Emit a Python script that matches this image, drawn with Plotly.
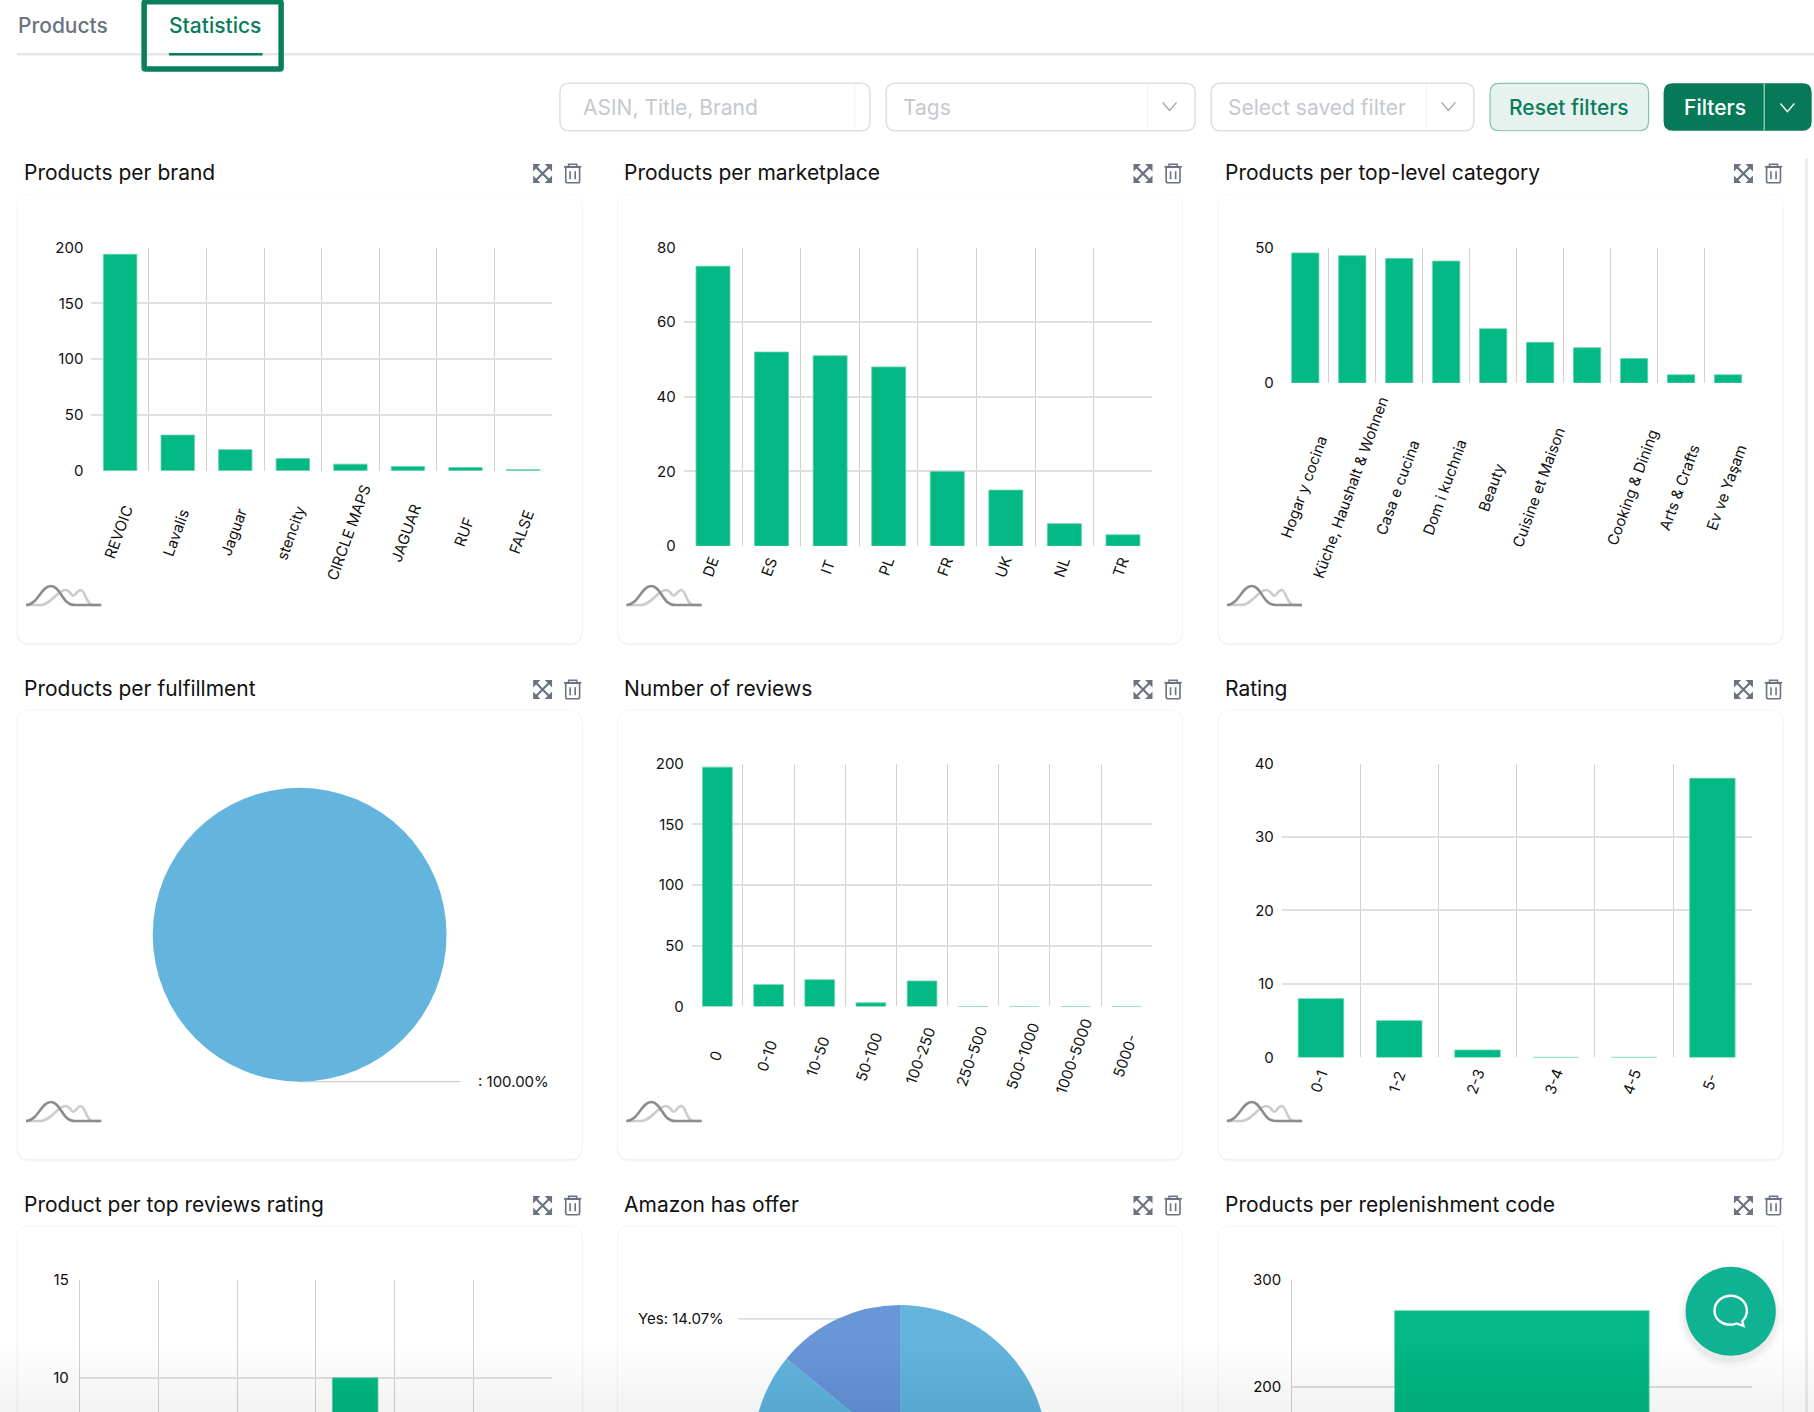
import plotly.graph_objects as go

# Screenshot is 1814x1412, figure runs past the bottom so the last row can be cut off by the window
W, H = 1814, 1700
S = 1814 / 1568  # positions below were measured on a 1568 wide view
FONT = "Inter"
GREEN = "#02b885"
DARK_GREEN = "#0a7c5c"
ICON = "#6b7280"
GRID_V = "#d2d2d2"
GRID_H = "#e0e0e0"

# Data
brand_cats = ["REVOIC", "Lavalis", "Jaguar", "stencity", "CIRCLE MAPS", "JAGUAR", "RUF", "FALSE"]
brand_vals = [194, 32, 19, 11, 6, 4, 3, 1]

market_cats = ["DE", "ES", "IT", "PL", "FR", "UK", "NL", "TR"]
market_vals = [75, 52, 51, 48, 20, 15, 6, 3]

category_cats = ["Hogar y cocina", "Küche, Haushalt & Wohnen", "Casa e cucina", "Dom i kuchnia", "Beauty",
                 "Cuisine et Maison", " ", "Cooking & Dining", "Arts & Crafts", "Ev ve Yaşam"]
category_vals = [48, 47, 46, 45, 20, 15, 13, 9, 3, 3]

review_cats = ["0", "0-10", "10-50", "50-100", "100-250", "250-500", "500-1000", "1000-5000", "5000-"]
review_vals = [197, 18, 22, 3, 21, 0, 0, 0, 0]

rating_cats = ["0-1", "1-2", "2-3", "3-4", "4-5", "5-"]
rating_vals = [8, 5, 1, 0, 0, 38]

# only the one bar tall enough to be seen above the window edge
top_rating_cats = ["0-1", "1-2", "2-3", "3-4", "4-5", "5-"]
top_rating_vals = [None, None, None, 10, None, None]
top_rating_ticks = [10, 15]

replenish_cats = ["-"]
replenish_vals = [271]
replenish_ticks = [200, 300]

fulfillment_labels = [""]
fulfillment_vals = [100]

offer_labels = ["No", "Yes"]
offer_vals = [85.93, 14.07]

card_titles = ["Products per brand", "Products per marketplace", "Products per top-level category",
               "Products per fulfillment", "Number of reviews", "Rating",
               "Product per top reviews rating", "Amazon has offer", "Products per replenishment code"]
card_lefts = [15, 534, 1053]
card_tops = [168, 614, 1060]


def X(x):
    return x * S / W


def Y(y):
    return 1 - y * S / H


def pt(x, y):
    return f"{X(x):.5f},{Y(y):.5f}"


shapes = []
annotations = []


def add_path(d, fill=None, line=None, width=0, layer="below"):
    shapes.append(dict(type="path", xref="paper", yref="paper", path=d, layer=layer,
                       fillcolor=fill or "rgba(0,0,0,0)",
                       line=dict(color=line or "rgba(0,0,0,0)", width=width)))


def rrect(x0, y0, x1, y1, r):
    return (f"M{pt(x0 + r, y0)} L{pt(x1 - r, y0)} Q{pt(x1, y0)} {pt(x1, y0 + r)} "
            f"L{pt(x1, y1 - r)} Q{pt(x1, y1)} {pt(x1 - r, y1)} "
            f"L{pt(x0 + r, y1)} Q{pt(x0, y1)} {pt(x0, y1 - r)} "
            f"L{pt(x0, y0 + r)} Q{pt(x0, y0)} {pt(x0 + r, y0)} Z")


def add_text(text, x, y, size, color="#111111", anchor="left", weight=400, angle=0):
    annotations.append(dict(text=text, x=X(x), y=Y(y), xref="paper", yref="paper", showarrow=False,
                            xanchor=anchor, yanchor="middle", textangle=angle, borderpad=0,
                            font=dict(family=FONT, size=size, color=color, weight=weight)))


def chevron(cx, cy, color):
    add_path(f"M{pt(cx - 6, cy - 3.5)} L{pt(cx, cy + 3.5)} L{pt(cx + 6, cy - 3.5)}", line=color, width=1.3)


def expand_icon(cx, cy):
    add_path(f"M{pt(cx - 6, cy - 6)} L{pt(cx + 6, cy + 6)} M{pt(cx + 6, cy - 6)} L{pt(cx - 6, cy + 6)}",
             line=ICON, width=2.2)
    for sx, sy in [(-1, -1), (1, -1), (-1, 1), (1, 1)]:
        a = pt(cx + sx * 8.2, cy + sy * 8.2)
        b = pt(cx + sx * 1.8, cy + sy * 8.2)
        c = pt(cx + sx * 8.2, cy + sy * 1.8)
        add_path(f"M{a} L{b} L{c} Z", fill=ICON)


def trash_icon(cx, cy):
    add_path(f"M{pt(cx - 7.5, cy - 5.8)} L{pt(cx + 7.5, cy - 5.8)}", line=ICON, width=1.8)
    add_path(f"M{pt(cx - 3.5, cy - 6)} L{pt(cx - 3.5, cy - 8)} L{pt(cx + 3.5, cy - 8)} L{pt(cx + 3.5, cy - 6)}",
             line=ICON, width=1.5)
    add_path(rrect(cx - 6, cy - 5.5, cx + 6, cy + 8, 1.5), line=ICON, width=1.6)
    add_path(f"M{pt(cx - 2.2, cy - 2)} L{pt(cx - 2.2, cy + 5)} M{pt(cx + 2.2, cy - 2)} L{pt(cx + 2.2, cy + 5)}",
             line=ICON, width=1.6)


def logo(x0, top):
    ox, oy = x0 + 7.5, top + 355
    light = (f"M{pt(ox + 12, oy)} C{pt(ox + 22, oy)} {pt(ox + 27, oy - 13)} {pt(ox + 34, oy - 13)} "
             f"C{pt(ox + 38, oy - 13)} {pt(ox + 39, oy - 8)} {pt(ox + 41, oy - 8)} "
             f"C{pt(ox + 43, oy - 8)} {pt(ox + 44, oy - 13)} {pt(ox + 47.5, oy - 13)} "
             f"C{pt(ox + 51, oy - 13)} {pt(ox + 52, oy)} {pt(ox + 58, oy)} L{pt(ox + 65, oy)} "
             f"M{pt(ox, oy)} L{pt(ox + 14, oy)}")
    dark = (f"M{pt(ox, oy)} C{pt(ox + 10, oy)} {pt(ox + 13, oy - 16.5)} {pt(ox + 21.5, oy - 16.5)} "
            f"C{pt(ox + 30, oy - 16.5)} {pt(ox + 31, oy)} {pt(ox + 42, oy)} L{pt(ox + 65, oy)}")
    add_path(light, line="#cccccc", width=2.6)
    add_path(dark, line="#8c8c8c", width=2.6)


# Page chrome
add_text("Products", 15, 22, 21, color=ICON, weight=500)
add_text("Statistics", 145, 22, 21, color=DARK_GREEN, weight=500)
shapes.append(dict(type="line", xref="paper", yref="paper", x0=X(15), x1=1, y0=Y(47), y1=Y(47),
                   line=dict(color="#e5e7eb", width=2.5), layer="below"))
shapes.append(dict(type="line", xref="paper", yref="paper", x0=X(146), x1=X(227), y0=Y(47), y1=Y(47),
                   line=dict(color=DARK_GREEN, width=2.5), layer="below"))
add_path(rrect(124.6, 1.5, 243, 59.6, 1), line="#0a7f5e", width=5.5)
shapes.append(dict(type="rect", xref="paper", yref="paper", x0=1805 / W, x1=1808 / W, y0=0, y1=Y(137),
                   fillcolor="#ececec", line=dict(width=0), layer="below"))

for x0, x1, lbl, tx, div in [(484, 752, "ASIN, Title, Brand", 503, 739), (766, 1033, "Tags", 780, 992),
                             (1047, 1274, "Select saved filter", 1061, 1233)]:
    add_path(rrect(x0, 72, x1, 113, 8), fill="#ffffff", line="#dcdfe3", width=1.5)
    shapes.append(dict(type="line", xref="paper", yref="paper", x0=X(div), x1=X(div), y0=Y(73), y1=Y(112),
                       line=dict(color="#f2f3f5", width=1), layer="below"))
    add_text(lbl, tx, 93, 21, color="#c5c8ce")
chevron(1011, 92, "#9ca3af")
chevron(1252, 92, "#9ca3af")
add_path(rrect(1288, 72, 1425, 113, 8), fill="#e6f2ee", line="#86c2ad", width=1.2)
add_text("Reset filters", 1356.5, 93, 21, color=DARK_GREEN, anchor="center", weight=500)
add_path(rrect(1438, 72, 1566, 113, 8), fill="#067a58")
shapes.append(dict(type="line", xref="paper", yref="paper", x0=X(1525), x1=X(1525), y0=Y(72), y1=Y(113),
                   line=dict(color="#8fc0ae", width=1.5), layer="above"))
add_text("Filters", 1482, 93, 21, color="#ffffff", anchor="center", weight=500)
chevron(1545, 93, "#ffffff")

# Cards
n = 0
for top in card_tops:
    for x0 in card_lefts:
        for off, col in [(2.0, "#f7f7f7"), (1.0, "#efefef")]:
            add_path(rrect(x0 - 0.6, top - 0.4, x0 + 488.6, top + 388 + off, 12), fill=col)
        add_path(rrect(x0, top, x0 + 488, top + 388, 11), fill="#ffffff")
        add_text(card_titles[n], x0 + 4.8, top - 19, 21, color="#111111")
        expand_icon(x0 + 454, top - 18)
        trash_icon(x0 + 480, top - 18)
        if top < 1000:
            logo(x0, top)
        n += 1

fig = go.Figure()


def add_bars(idx, cats, vals, left, right, y_top, y_zero, y_max, dtick=None, ticks=None, label_y=None,
             width=0.58, side_line=False):
    suffix = "" if idx == 1 else str(idx)
    fig.add_trace(go.Bar(x=cats, y=vals, width=width, xaxis="x" + suffix, yaxis="y" + suffix,
                         marker=dict(color=GREEN, line=dict(color="#5fd0ae", width=0.8)),
                         hoverinfo="x+y"))
    fig.layout["xaxis" + suffix] = dict(
        domain=[X(left), X(right)], anchor="y" + suffix, type="category", categoryorder="array",
        categoryarray=cats, range=[-0.5, len(cats) - 0.5], tickson="boundaries", ticks="",
        showticklabels=False, showgrid=True, gridcolor=GRID_V, gridwidth=1, zeroline=False, fixedrange=True)
    fig.layout["yaxis" + suffix] = dict(
        domain=[Y(y_zero), Y(y_top)], anchor="x" + suffix, range=[0, y_max], dtick=dtick, tick0=0 if dtick else None,
        tickvals=ticks, ticks="", showgrid=True, gridcolor=GRID_H, gridwidth=1.5, zeroline=False,
        showline=side_line, linecolor=GRID_V, linewidth=1, ticklabelstandoff=7, fixedrange=True,
        tickfont=dict(family=FONT, size=15, color="#111111"))
    if label_y is None:
        return
    for cat in cats:
        if cat.strip():
            annotations.append(dict(text=cat, x=cat, y=Y(label_y), xref="x" + suffix, yref="paper",
                                    showarrow=False, xanchor="center", yanchor="middle", textangle=-70,
                                    xshift=-2, font=dict(family=FONT, size=15, color="#111111")))


add_bars(1, brand_cats, brand_vals, 79, 477, 214, 407, 200, dtick=50, label_y=460)
add_bars(2, market_cats, market_vals, 591, 996, 214, 472, 80, dtick=20, label_y=490)
add_bars(3, category_cats, category_vals, 1108, 1514, 214, 331, 50, dtick=50, label_y=421)
add_bars(4, review_cats, review_vals, 598, 996, 660, 870, 200, dtick=50, label_y=913)
add_bars(5, rating_cats, rating_vals, 1108, 1514, 660, 914, 40, dtick=10, label_y=935)
add_bars(6, top_rating_cats, top_rating_vals, 69, 477, 1106, 1361, 15, ticks=top_rating_ticks, side_line=True)
add_bars(7, replenish_cats, replenish_vals, 1117, 1514, 1106, 1385, 300, ticks=replenish_ticks, width=0.554,
         side_line=True)

# Pies, radius fills the domain box since no text is drawn by the trace
fig.add_trace(go.Pie(labels=fulfillment_labels, values=fulfillment_vals, sort=False, textinfo="none",
                     domain=dict(x=[X(132), X(386)], y=[Y(935), Y(681)]),
                     marker=dict(colors=["#63b5dd"], line=dict(width=0))))
fig.add_trace(go.Pie(labels=offer_labels, values=offer_vals, sort=False, direction="clockwise", rotation=0,
                     textinfo="none", domain=dict(x=[X(651), X(905)], y=[Y(1382), Y(1128)]),
                     marker=dict(colors=["#63b5dd", "#6896d8"], line=dict(width=0))))

shapes.append(dict(type="line", xref="paper", yref="paper", x0=X(259), x1=X(398), y0=Y(935), y1=Y(935),
                   line=dict(color="#cfcfcf", width=1.2), layer="below"))
add_text(": 100.00%", 412, 935, 15)
shapes.append(dict(type="line", xref="paper", yref="paper", x0=X(638), x1=X(730), y0=Y(1140), y1=Y(1140),
                   line=dict(color="#cfcfcf", width=1.2), layer="below"))
add_text("Yes: 14.07%", 551, 1140, 15)

# Soft fade along the bottom of the window, steps of one grey level
for i in range(12):
    shapes.append(dict(type="rect", xref="paper", yref="paper", x0=0, x1=1, y0=0, y1=Y(1160 + i * 5),
                       fillcolor="rgba(0,0,0,0.004)", line=dict(width=0), layer="above"))

# Chat bubble
for grow, alpha in [(7, 0.012), (5, 0.015), (3, 0.02), (1.5, 0.025)]:
    shapes.append(dict(type="circle", xref="paper", yref="paper", x0=X(1457 - grow), x1=X(1535 + grow),
                       y0=Y(1176 + grow), y1=Y(1098 - grow), fillcolor=f"rgba(0,0,0,{alpha})",
                       line=dict(width=0), layer="above"))
shapes.append(dict(type="circle", xref="paper", yref="paper", x0=X(1457), x1=X(1535), y0=Y(1172), y1=Y(1095),
                   fillcolor="#0fb394", line=dict(width=0), layer="above"))
bx, by = 1496, 1133
add_path(f"M{pt(bx - 14, by)} C{pt(bx - 14, by - 8)} {pt(bx - 7, by - 13)} {pt(bx, by - 13)} "
         f"C{pt(bx + 8, by - 13)} {pt(bx + 14, by - 7)} {pt(bx + 14, by)} "
         f"C{pt(bx + 14, by + 4)} {pt(bx + 12, by + 7)} {pt(bx + 10, by + 9)} L{pt(bx + 11, by + 13)} "
         f"L{pt(bx + 5, by + 11)} C{pt(bx + 3, by + 12)} {pt(bx + 1, by + 12)} {pt(bx, by + 12)} "
         f"C{pt(bx - 8, by + 12)} {pt(bx - 14, by + 7)} {pt(bx - 14, by)} Z",
         line="#ffffff", width=2.4, layer="above")

fig.update_layout(width=W, height=H, autosize=False,
                  margin=dict(l=0, r=0, t=0, b=0, autoexpand=False), showlegend=False,
                  paper_bgcolor="#ffffff", plot_bgcolor="rgba(0,0,0,0)", font=dict(family=FONT),
                  shapes=shapes, annotations=annotations)

fig.write_html("out.html", config=dict(displayModeBar=False),
               post_script="document.body.style.margin='0';document.documentElement.style.overflow='hidden';")
